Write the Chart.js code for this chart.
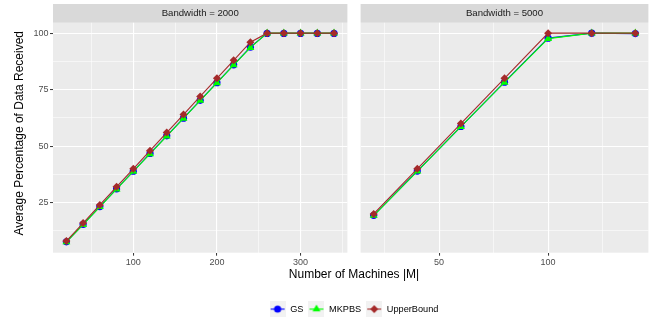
<!DOCTYPE html>
<html>
<head>
<meta charset="utf-8">
<script src="https://cdn.jsdelivr.net/npm/chart.js@4/dist/chart.umd.min.js"></script>
<style>
  html, body { margin: 0; padding: 0; background: #ffffff; }
  #wrap { position: relative; width: 662px; height: 322px; overflow: hidden; background: #ffffff; }
  #wrap canvas { position: absolute; }
</style>
</head>
<body>
<div id="wrap">
  <canvas id="panel2000" width="352" height="282" style="left:0px;top:0px;width:352px;height:282px"></canvas>
  <canvas id="panel5000" width="297" height="282" style="left:356px;top:0px;width:297px;height:282px"></canvas>
  <canvas id="legendArea" width="600" height="64" style="left:54px;top:259px;width:600px;height:64px"></canvas>
</div>
<script>
// ---- data ----
const panelTitles = ['Bandwidth = 2000', 'Bandwidth = 5000'];
const seriesNames = ['GS', 'MKPBS', 'UpperBound'];

const machines2000 = [20, 40, 60, 80, 100, 120, 140, 160, 180, 200, 220, 240, 260, 280, 300, 320, 340];
const gs2000       = [7.7, 15.4, 23.3, 31.1, 38.9, 46.8, 54.6, 62.4, 70.3, 78.1, 86.0, 93.8, 99.9, 99.9, 99.9, 99.9, 99.9];
const mkpbs2000    = [7.6, 15.3, 23.2, 31.0, 38.8, 46.6, 54.4, 62.3, 70.2, 78.0, 85.9, 93.6, 100, 100, 100, 100, 100];
const upper2000    = [8, 16, 24, 32, 40, 48, 56, 64, 72, 80, 88, 96, 100, 100, 100, 100, 100];

const machines5000 = [20, 40, 60, 80, 100, 120, 140];
const gs5000       = [19.4, 39.0, 58.7, 78.3, 97.8, 100, 99.8];
const mkpbs5000    = [19.3, 38.9, 58.6, 78.2, 97.6, 100, 100];
const upper5000    = [20, 40, 60, 80, 100, 100, 100];

// tick labels (major) and minor grid positions
const yTicks = [25, 50, 75, 100];
const yMinor = [12.5, 37.5, 62.5, 87.5];
const xTicks2000 = [100, 200, 300];
const xMinor2000 = [50, 150, 250, 350];
const xTicks5000 = [50, 100];
const xMinor5000 = [25, 75, 125];

const yTitle = 'Average Percentage of Data Received';
const xTitle = 'Number of Machines |M|';

// ---- styling ----
const FONT = '"Liberation Sans", Arial, Helvetica, sans-serif';
const colors = ['#0000FF', '#00FF00', '#A52A2A'];
const pointStyles = ['circle', 'triangle', 'rectRot'];
const pointRadii = [3.6, 4.6, 4.0];
const drawOrder = [2, 1, 0];

// panel background, facet strip and (optionally) the y-axis title
const panelDecor = {
  id: 'panelDecor',
  beforeDraw(chart, args, opts) {
    const { ctx, chartArea: a } = chart;
    ctx.save();
    ctx.fillStyle = '#EBEBEB';
    ctx.fillRect(a.left, a.top, a.right - a.left, a.bottom - a.top);
    ctx.fillStyle = '#D9D9D9';
    ctx.fillRect(a.left, 4, a.right - a.left, a.top - 4);
    ctx.fillStyle = '#1A1A1A';
    ctx.font = '9.6px ' + FONT;
    ctx.textAlign = 'center';
    ctx.textBaseline = 'middle';
    ctx.fillText(opts.strip, (a.left + a.right) / 2, 13.4);
    if (opts.yTitle) {
      ctx.translate(19.8, 133.3);
      ctx.rotate(-Math.PI / 2);
      ctx.fillStyle = '#000000';
      ctx.font = '12px ' + FONT;
      ctx.fillText(opts.yTitle, 0, 0);
    }
    ctx.restore();
  }
};

function gridScale(major, minor, min, max, showLabels, fit) {
  return {
    type: 'linear',
    min: min,
    max: max,
    afterBuildTicks(scale) {
      scale.ticks = minor.concat(major).sort((p, q) => p - q).map(v => ({ value: v }));
    },
    afterFit: fit,
    ticks: {
      display: showLabels,
      autoSkip: false,
      maxRotation: 0,
      padding: 1.5,
      color: '#4D4D4D',
      font: { family: FONT, size: 9 },
      callback: v => (major.includes(v) ? String(v) : '')
    },
    grid: {
      color: '#FFFFFF',
      lineWidth: c => (c.tick && major.includes(c.tick.value) ? 1.1 : 0.55),
      drawTicks: showLabels,
      tickLength: 3,
      tickWidth: 1,
      tickColor: c => (c.tick && major.includes(c.tick.value) ? '#333333' : 'rgba(0,0,0,0)')
    },
    border: { display: false }
  };
}

function makeSeries(xs, ysList) {
  return ysList.map((ys, i) => ({
    label: seriesNames[i],
    data: xs.map((x, k) => ({ x: x, y: ys[k] })),
    borderColor: colors[i],
    backgroundColor: colors[i],
    borderWidth: 1.1,
    pointStyle: pointStyles[i],
    pointRadius: pointRadii[i],
    pointBorderWidth: 0,
    pointBackgroundColor: colors[i],
    tension: 0,
    order: drawOrder[i]
  }));
}

const Y_MIN = 2.875, Y_MAX = 104.625;

function panelChart(id, strip, xs, ysList, xMajor, xMinorList, xMin, xMax, withYAxis, padRight) {
  return new Chart(document.getElementById(id), {
    type: 'line',
    data: { datasets: makeSeries(xs, ysList) },
    options: {
      responsive: false,
      animation: false,
      devicePixelRatio: 1,
      layout: { padding: { top: 22.7, right: padRight, bottom: 0, left: 0 } },
      plugins: {
        legend: { display: false },
        tooltip: { enabled: false },
        panelDecor: { strip: strip, yTitle: withYAxis ? yTitle : null }
      },
      scales: {
        x: gridScale(xMajor, xMinorList, xMin, xMax, true, s => { s.height = 282 - 252.7; }),
        y: gridScale(yTicks, yMinor, Y_MIN, Y_MAX, withYAxis, s => { s.width = withYAxis ? 53 : 0; })
      }
    },
    plugins: [panelDecor]
  });
}

panelChart('panel2000', panelTitles[0], machines2000, [gs2000, mkpbs2000, upper2000],
  xTicks2000, xMinor2000, 4, 356, true, 2.7);
panelChart('panel5000', panelTitles[1], machines5000, [gs5000, mkpbs5000, upper5000],
  xTicks5000, xMinor5000, 14, 146, false, 0);

// legend keys: grey square with the series line and marker
function keyImage(i) {
  const c = document.createElement('canvas');
  c.width = 16; c.height = 16;
  const g = c.getContext('2d');
  g.fillStyle = '#F2F2F2';
  g.fillRect(0, 0, 16, 16);
  g.strokeStyle = colors[i];
  g.lineWidth = 1.1;
  g.beginPath(); g.moveTo(1, 8); g.lineTo(15, 8); g.stroke();
  g.fillStyle = colors[i];
  Chart.helpers.drawPoint(g, { pointStyle: pointStyles[i], radius: pointRadii[i], borderWidth: 0, rotation: 0 }, 8, 8);
  return c;
}

new Chart(document.getElementById('legendArea'), {
  type: 'line',
  data: { datasets: seriesNames.map((n, i) => ({ label: n, data: [], borderColor: colors[i], backgroundColor: colors[i] })) },
  options: {
    responsive: false,
    animation: false,
    devicePixelRatio: 1,
    layout: { padding: 0 },
    scales: { x: { display: false }, y: { display: false } },
    plugins: {
      tooltip: { enabled: false },
      title: {
        display: true,
        text: xTitle,
        color: '#000000',
        font: { family: FONT, size: 12, weight: 'normal' },
        padding: { top: 8.9, bottom: 17.2 }
      },
      legend: {
        display: true,
        position: 'top',
        labels: {
          usePointStyle: true,
          pointStyleWidth: 16,
          boxHeight: 16,
          padding: 5,
          color: '#000000',
          font: { family: FONT, size: 9.2 },
          generateLabels: chart => chart.data.datasets.map((d, i) => ({
            text: d.label,
            pointStyle: keyImage(i),
            fillStyle: colors[i],
            strokeStyle: colors[i],
            lineWidth: 0,
            hidden: false,
            datasetIndex: i
          }))
        }
      }
    }
  }
});
</script>
</body>
</html>
